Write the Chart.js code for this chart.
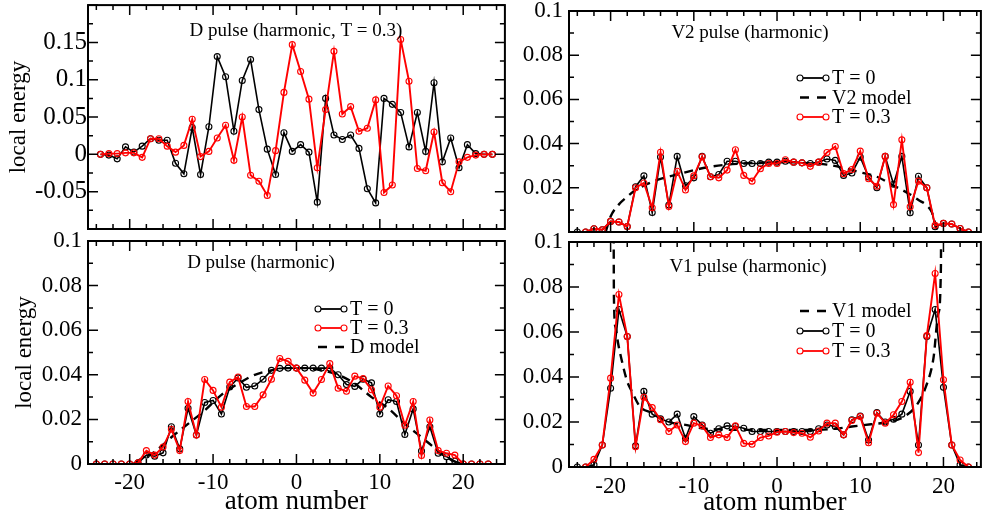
<!DOCTYPE html>
<html lang="en">
<head>
<meta charset="UTF-8" />
<title>Local energy of pulses</title>
<script src="https://cdn.jsdelivr.net/npm/chart.js@4"></script>
<style>
  body { margin: 0; background: #fff; }
  #wrap { position: relative; width: 986px; height: 522px; overflow: hidden; }
  canvas { position: absolute; }
</style>
</head>
<body>
<div id="wrap">
  <canvas id="tl" width="510" height="240" style="left:0;top:0"></canvas>
  <canvas id="tr" width="476" height="240" style="left:510px;top:0"></canvas>
  <canvas id="bl" width="510" height="296" style="left:0;top:226px"></canvas>
  <canvas id="br" width="476" height="296" style="left:510px;top:226px"></canvas>
</div>
<script>
// atom positions
const halfAtoms = [-23.5,-22.5,-21.5,-20.5,-19.5,-18.5,-17.5,-16.5,-15.5,-14.5,-13.5,-12.5,-11.5,-10.5,-9.5,-8.5,-7.5,-6.5,-5.5,-4.5,-3.5,-2.5,-1.5,-0.5,
  0.5,1.5,2.5,3.5,4.5,5.5,6.5,7.5,8.5,9.5,10.5,11.5,12.5,13.5,14.5,15.5,16.5,17.5,18.5,19.5,20.5,21.5,22.5,23.5];
const intAtoms = [-24,-23,-22,-21,-20,-19,-18,-17,-16,-15,-14,-13,-12,-11,-10,-9,-8,-7,-6,-5,-4,-3,-2,-1,
  0,1,2,3,4,5,6,7,8,9,10,11,12,13,14,15,16,17,18,19,20,21,22,23];

// D pulse (harmonic, T = 0.3) panel
const dHotT0 = [0,-0.001,-0.006,0.010,0.003,0.011,0.021,0.019,0.019,-0.012,-0.026,0.036,-0.027,0.037,0.131,0.104,0.031,0.099,0.127,0.060,0.007,-0.027,0.029,0.004,
  0.013,0.003,-0.064,0.075,0.026,0.020,0.026,0.008,-0.046,-0.065,0.075,0.067,0.056,0.010,0.056,0.004,0.096,-0.010,0.022,-0.018,0.013,0.001,0.000,0];
const dHotT03 = [0,0.001,0.001,0.002,0.002,-0.004,0.021,0.021,0.011,0.003,0.012,0.047,-0.003,0.004,0.022,0.039,-0.008,0.050,-0.028,-0.036,-0.055,0.005,0.083,0.147,
  0.111,0.074,-0.018,0.060,0.138,0.054,0.064,0.031,0.035,0.073,-0.051,-0.041,0.154,0.098,-0.019,-0.022,0.030,-0.038,-0.050,-0.010,-0.004,-0.001,0.000,0];

// D pulse (harmonic)
const dT0 = [0,0,0,0,0,0.0005,0.004,0.0035,0.005,0.0167,0.0068,0.025,0.013,0.0276,0.0285,0.0224,0.0345,0.0386,0.0344,0.035,0.038,0.042,0.0429,0.043,
  0.043,0.043,0.043,0.043,0.043,0.040,0.0356,0.0348,0.038,0.0364,0.0224,0.0288,0.028,0.0132,0.0247,0.0058,0.0167,0.0048,0.0033,0.0012,0,0,0,0];
const dT03 = [0,0,0,0,0,0.0005,0.006,0.004,0.0076,0.0156,0.006,0.028,0.013,0.0379,0.033,0.0255,0.0367,0.039,0.0258,0.0258,0.031,0.038,0.0473,0.046,
  0.043,0.0376,0.0318,0.0379,0.045,0.034,0.0326,0.0394,0.0383,0.0333,0.0255,0.035,0.0306,0.0174,0.028,0.0038,0.0197,0.006,0.0048,0.004,0,0,0,0];
const dModelX = [-19.5,-19,-17,-15,-13,-11,-9,-7,-5,-3,-1,1,3,5,7,9,11,13,15,17,19,20];
const dModelY = [0,0.0015,0.0055,0.012,0.018,0.024,0.031,0.036,0.040,0.042,0.043,0.043,0.042,0.040,0.036,0.030,0.025,0.018,0.012,0.006,0.001,0];

// V2 pulse (harmonic)
const v2T0 = [0,0,0.0015,0.001,0.0048,0.0045,0.0025,0.0205,0.0254,0.0088,0.0339,0.0122,0.0342,0.0209,0.0245,0.0342,0.025,0.026,0.032,0.032,0.031,0.031,0.031,0.0316,
  0.0316,0.032,0.0316,0.0313,0.031,0.0316,0.033,0.0324,0.0256,0.0267,0.0339,0.0249,0.020,0.0342,0.0216,0.0342,0.0087,0.0252,0.020,0.0024,0.0039,0.0036,0.0016,0];
const v2T03 = [null,0,0.0015,0.001,0.0048,0.0045,0.0025,0.020,0.0222,0.011,0.0361,0.0115,0.0275,0.019,0.0254,0.034,0.025,0.0245,0.028,0.0372,0.0256,0.023,0.0286,0.031,
  0.031,0.0327,0.0316,0.0313,0.0297,0.0316,0.036,0.0387,0.0264,0.0283,0.0366,0.0241,0.0207,0.0342,0.0124,0.0417,0.0114,0.023,0.020,0.003,0.0039,0.0036,0.0016,0];
const v2ModelX = [-20.6,-20,-19,-18,-17,-16,-14,-12,-10,-8,-6,-4,-2,0,2,4,6,8,10,12,14,16,17,18,18.6,19,19.3];
const v2ModelY = [0,0.007,0.0125,0.016,0.019,0.021,0.024,0.026,0.028,0.0295,0.0305,0.031,0.0315,0.0315,0.0315,0.031,0.0305,0.029,0.027,0.025,0.021,0.017,0.0145,0.012,0.009,0.004,0];

// V1 pulse (harmonic)
const v1T0 = [0,0,0.001,0.0098,0.035,0.070,0.058,0.0094,0.0336,0.0235,0.0214,0.020,0.0235,0.0128,0.0224,0.0187,0.015,0.017,0.0183,0.018,0.0172,0.0158,0.0158,0.0158,
  0.0158,0.0158,0.0158,0.0158,0.0158,0.017,0.0187,0.018,0.0143,0.021,0.0227,0.012,0.0242,0.020,0.0212,0.0235,0.0336,0.0098,0.058,0.070,0.0354,0.0098,0.001,0];
const v1T03 = [null,0,0.0034,0.0098,0.0395,0.0767,0.058,0.009,0.031,0.0264,0.021,0.0158,0.0187,0.0113,0.0195,0.0183,0.0131,0.0143,0.0131,0.0183,0.0105,0.0101,0.0131,0.0138,
  0.0155,0.0158,0.0153,0.015,0.0132,0.016,0.0195,0.0195,0.0143,0.0207,0.0224,0.0108,0.0239,0.0195,0.0232,0.0291,0.0377,0.0064,0.0584,0.086,0.0388,0.0098,0.0031,0];
const v1ModelX = [-19.65,-19.6,-19.4,-19.1,-18.7,-18,-17.5,-16.5,-15,-13,-11,-9,-7,-4,0,4,7,9,11.3,13.5,15.3,16.8,17.9,18.8,19.4,19.7,19.72];
const v1ModelY = [0.13,0.075,0.062,0.055,0.048,0.038,0.034,0.027,0.024,0.020,0.0187,0.0172,0.0167,0.0165,0.0165,0.0165,0.017,0.018,0.019,0.020,0.0224,0.0276,0.0358,0.0484,0.0685,0.09,0.13];

const SERIF = "'Liberation Serif', 'Times New Roman', serif";
Chart.defaults.font.family = SERIF;
Chart.defaults.color = '#000';

function pts(xs, ys) {
  return xs.map((x, i) => ({ x: x, y: ys[i] })).filter(p => p.y !== null);
}

function seriesSet(label, xs, ys, color, order) {
  return {
    label, data: pts(xs, ys), order,
    borderColor: color, borderWidth: color === '#000' ? 1.6 : 1.9,
    pointRadius: 3, pointBorderWidth: 1.1, pointBorderColor: color,
    pointBackgroundColor: 'rgba(0,0,0,0)', fill: false, tension: 0
  };
}

function modelSet(label, xs, ys, order) {
  return {
    label, data: pts(xs, ys), order,
    borderColor: '#000', borderWidth: 2.4, borderDash: [9, 6],
    pointRadius: 0, fill: false, cubicInterpolationMode: 'monotone'
  };
}

// frame, inward ticks on all sides, panel title and legend
const decor = {
  id: 'decor',
  afterDatasetsDraw(chart, args, o) {
    const { ctx, chartArea: a, scales: { x, y } } = chart;
    ctx.save();
    ctx.strokeStyle = '#000';
    ctx.lineWidth = 1.5;
    const eachTick = (scale, minor, major, fn) => {
      const start = Math.ceil(scale.min / minor - 1e-9);
      const end = Math.floor(scale.max / minor + 1e-9);
      for (let k = start; k <= end; k++) {
        const v = k * minor;
        const isMajor = Math.abs(v / major - Math.round(v / major)) < 1e-6;
        fn(scale.getPixelForValue(v), isMajor ? 10 : 5);
      }
    };
    ctx.beginPath();
    eachTick(x, o.xMinor, o.xMajor, (px, len) => {
      ctx.moveTo(px, a.bottom); ctx.lineTo(px, a.bottom - len);
      ctx.moveTo(px, a.top); ctx.lineTo(px, a.top + len);
    });
    eachTick(y, o.yMinor, o.yMajor, (py, len) => {
      ctx.moveTo(a.left, py); ctx.lineTo(a.left + len, py);
      ctx.moveTo(a.right, py); ctx.lineTo(a.right - len, py);
    });
    ctx.stroke();
    ctx.lineWidth = 2;
    ctx.strokeRect(a.left, a.top, a.width, a.height);

    ctx.fillStyle = '#000';
    ctx.font = '19px ' + SERIF;
    ctx.textAlign = 'center';
    ctx.textBaseline = 'middle';
    ctx.fillText(o.title, o.titleX, o.titleY);

    // legend
    const lg = o.legend;
    ctx.font = '20px ' + SERIF;
    ctx.textAlign = 'left';
    lg.items.forEach((it, i) => {
      const yy = lg.y + i * lg.gap;
      ctx.strokeStyle = it.color;
      if (it.kind === 'model') {
        ctx.lineWidth = 2.4;
        ctx.beginPath();
        ctx.moveTo(lg.x, yy); ctx.lineTo(lg.x + 9, yy);
        ctx.moveTo(lg.x + 17, yy); ctx.lineTo(lg.x + 26, yy);
        ctx.stroke();
      } else {
        ctx.lineWidth = 1.8;
        ctx.beginPath();
        ctx.moveTo(lg.x + 3, yy); ctx.lineTo(lg.x + 23, yy);
        ctx.stroke();
        ctx.lineWidth = 1.1;
        [lg.x, lg.x + 26].forEach(cx => {
          ctx.beginPath();
          ctx.arc(cx, yy, 3, 0, Math.PI * 2);
          ctx.stroke();
        });
      }
      ctx.fillStyle = '#000';
      ctx.fillText(it.text, lg.x + 32, yy + 1);
    });
    ctx.restore();
  }
};

function fmt(v) {
  return String(+v.toFixed(3));
}

function makePanel(id, p) {
  new Chart(document.getElementById(id), {
    type: 'line',
    data: { datasets: p.datasets },
    options: {
      responsive: false,
      animation: false,
      events: [],
      layout: { padding: p.pad },
      plugins: { legend: { display: false }, tooltip: { enabled: false }, decor: p.decor },
      scales: {
        x: {
          type: 'linear', min: p.xMin, max: p.xMax,
          grid: { display: false, drawTicks: false }, border: { display: false },
          ticks: { display: p.xLabels, padding: p.xPad, font: { size: 23 }, callback: fmt },
          title: { display: p.xLabels, text: 'atom number', font: { size: 27 }, padding: { top: 0, bottom: p.xTitlePad } },
          afterBuildTicks: s => { s.ticks = [-20, -10, 0, 10, 20].map(v => ({ value: v })); },
          afterFit: s => { s.height = p.xHeight; s.paddingLeft = 0; s.paddingRight = 0; }
        },
        y: {
          type: 'linear', min: p.yMin, max: p.yMax,
          grid: { display: false, drawTicks: false }, border: { display: false },
          ticks: { padding: p.yPad, font: { size: p.yFont }, callback: fmt },
          title: { display: p.yTitle, text: 'local energy', font: { size: 23 }, padding: { top: p.yTitlePad, bottom: 0 } },
          afterBuildTicks: s => { s.ticks = p.yTicks.map(v => ({ value: v })); },
          afterFit: s => { s.width = p.yWidth; s.paddingTop = 0; s.paddingBottom = 0; }
        }
      }
    },
    plugins: [decor]
  });
}

makePanel('tl', {
  datasets: [
    seriesSet('T = 0.3', halfAtoms, dHotT03, '#ff0000', 0),
    seriesSet('T = 0', halfAtoms, dHotT0, '#000', 1)
  ],
  pad: { top: 5, right: 5, bottom: 0, left: 0 },
  xMin: -25, xMax: 25, xLabels: false, xPad: 0, xTitlePad: 0, xHeight: 11,
  yMin: -0.1, yMax: 0.2, yTicks: [-0.05, 0, 0.05, 0.1, 0.15], yPad: 1, yFont: 25,
  yTitle: true, yTitlePad: 5, yWidth: 88,
  decor: { xMinor: 2, xMajor: 10, yMinor: 0.025, yMajor: 0.05,
    title: 'D pulse (harmonic, T = 0.3)', titleX: 296, titleY: 31,
    legend: { x: 0, y: 0, gap: 0, items: [] } }
});

makePanel('tr', {
  datasets: [
    seriesSet('T = 0.3', intAtoms, v2T03, '#ff0000', 0),
    modelSet('V2 model', v2ModelX, v2ModelY, 1),
    seriesSet('T = 0', intAtoms, v2T0, '#000', 2)
  ],
  pad: { top: 11, right: 1, bottom: 0, left: 0 },
  xMin: -25, xMax: 24.5, xLabels: false, xPad: 0, xTitlePad: 0, xHeight: 8,
  yMin: 0, yMax: 0.1, yTicks: [0.02, 0.04, 0.06, 0.08, 0.1], yPad: 6, yFont: 23,
  yTitle: false, yTitlePad: 0, yWidth: 59,
  decor: { xMinor: 2, xMajor: 10, yMinor: 0.01, yMajor: 0.02,
    title: 'V2 pulse (harmonic)', titleX: 240, titleY: 33,
    legend: { x: 290, y: 78, gap: 19.5, items: [
      { text: 'T = 0', kind: 'series', color: '#000' },
      { text: 'V2 model', kind: 'model', color: '#000' },
      { text: 'T = 0.3', kind: 'series', color: '#ff0000' }
    ] } }
});

makePanel('bl', {
  datasets: [
    seriesSet('T = 0', intAtoms, dT0, '#000', 1),
    seriesSet('T = 0.3', intAtoms, dT03, '#ff0000', 0),
    modelSet('D model', dModelX, dModelY, 2)
  ],
  pad: { top: 15, right: 5, bottom: 0, left: 0 },
  xMin: -25, xMax: 25, xLabels: true, xPad: 5, xTitlePad: 4, xHeight: 58,
  yMin: 0, yMax: 0.1, yTicks: [0, 0.02, 0.04, 0.06, 0.08, 0.1], yPad: 6, yFont: 23,
  yTitle: true, yTitlePad: 11, yWidth: 88,
  decor: { xMinor: 2, xMajor: 10, yMinor: 0.01, yMajor: 0.02,
    title: 'D pulse (harmonic)', titleX: 261, titleY: 37,
    legend: { x: 318, y: 83, gap: 19, items: [
      { text: 'T = 0', kind: 'series', color: '#000' },
      { text: 'T = 0.3', kind: 'series', color: '#ff0000' },
      { text: 'D model', kind: 'model', color: '#000' }
    ] } }
});

makePanel('br', {
  datasets: [
    seriesSet('T = 0.3', intAtoms, v1T03, '#ff0000', 0),
    seriesSet('T = 0', intAtoms, v1T0, '#000', 1),
    modelSet('V1 model', v1ModelX, v1ModelY, 2)
  ],
  pad: { top: 16, right: 1, bottom: 0, left: 0 },
  xMin: -25, xMax: 24.5, xLabels: true, xPad: 6, xTitlePad: 3, xHeight: 55,
  yMin: 0, yMax: 0.1, yTicks: [0, 0.02, 0.04, 0.06, 0.08, 0.1], yPad: 6, yFont: 23,
  yTitle: false, yTitlePad: 0, yWidth: 59,
  decor: { xMinor: 2, xMajor: 10, yMinor: 0.01, yMajor: 0.02,
    title: 'V1 pulse (harmonic)', titleX: 238, titleY: 41,
    legend: { x: 290, y: 85, gap: 20, items: [
      { text: 'V1 model', kind: 'model', color: '#000' },
      { text: 'T = 0', kind: 'series', color: '#000' },
      { text: 'T = 0.3', kind: 'series', color: '#ff0000' }
    ] } }
});
</script>
</body>
</html>
